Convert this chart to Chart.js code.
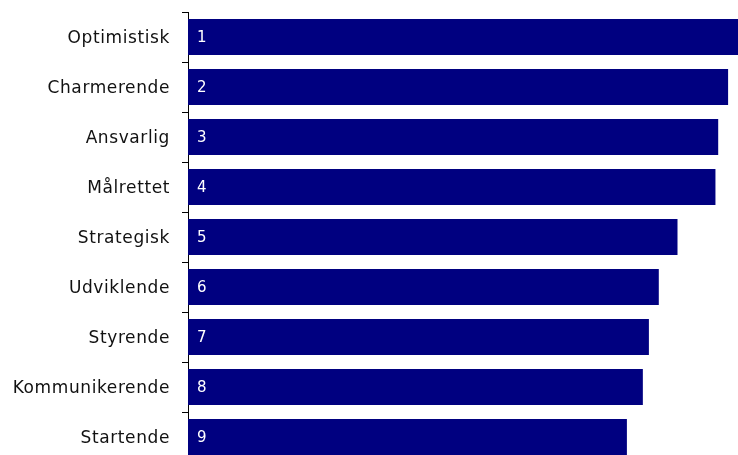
<!DOCTYPE html>
<html>
<head>
<meta charset="utf-8">
<script src="https://cdn.jsdelivr.net/npm/chart.js@4"></script>
<style>
  html, body { margin: 0; padding: 0; background: #fff; overflow: hidden; }
  canvas { display: block; }
</style>
</head>
<body>
<canvas id="c" width="738" height="462"></canvas>
<script>
// Traits and their scores
const categories = ['Optimistisk', 'Charmerende', 'Ansvarlig', 'Målrettet', 'Strategisk',
                    'Udviklende', 'Styrende', 'Kommunikerende', 'Startende'];
const scores = [100, 98.2, 96.4, 95.9, 89.0, 85.6, 83.8, 82.7, 79.8];
const ranks = ['1', '2', '3', '4', '5', '6', '7', '8', '9'];

// Slightly wider tracking for the axis labels
const labelTracking = {
  id: 'labelTracking',
  beforeDraw(chart) { chart.ctx.letterSpacing = '0.6px'; },
  afterDraw(chart) { chart.ctx.letterSpacing = '0px'; }
};

// Rank numbers drawn inside each bar, near its base
const rankLabels = {
  id: 'rankLabels',
  afterDatasetsDraw(chart) {
    const ctx = chart.ctx;
    const meta = chart.getDatasetMeta(0);
    ctx.save();
    ctx.letterSpacing = '0px';
    ctx.fillStyle = '#ffffff';
    ctx.font = '15px "DejaVu Sans", Verdana, sans-serif';
    ctx.textAlign = 'left';
    ctx.textBaseline = 'middle';
    meta.data.forEach((bar, i) => {
      ctx.fillText(ranks[i], bar.base + 9, bar.y + 1);
    });
    ctx.restore();
  }
};

new Chart(document.getElementById('c'), {
  type: 'bar',
  data: {
    labels: categories,
    datasets: [{
      data: scores,
      backgroundColor: '#000080',
      borderWidth: 0,
      categoryPercentage: 0.72,
      barPercentage: 1.0
    }]
  },
  options: {
    indexAxis: 'y',
    responsive: false,
    animation: false,
    layout: { padding: { top: 12, left: 0, right: 0, bottom: 0 } },
    plugins: { legend: { display: false }, tooltip: { enabled: false } },
    scales: {
      x: { display: false, min: 0, max: 100 },
      y: {
        afterFit(scale) {
          scale.width = 188;
          scale.paddingTop = 0;
          scale.paddingBottom = 0;
        },
        border: { display: true, color: '#000000', width: 1 },
        grid: {
          display: true,
          offset: true,
          drawOnChartArea: false,
          drawTicks: true,
          tickLength: 6,
          color: '#000000'
        },
        ticks: {
          color: '#111111',
          padding: 12,
          labelOffset: 2,
          font: { family: '"DejaVu Sans", Verdana, sans-serif', size: 17 }
        }
      }
    }
  },
  plugins: [labelTracking, rankLabels]
});
</script>
</body>
</html>
